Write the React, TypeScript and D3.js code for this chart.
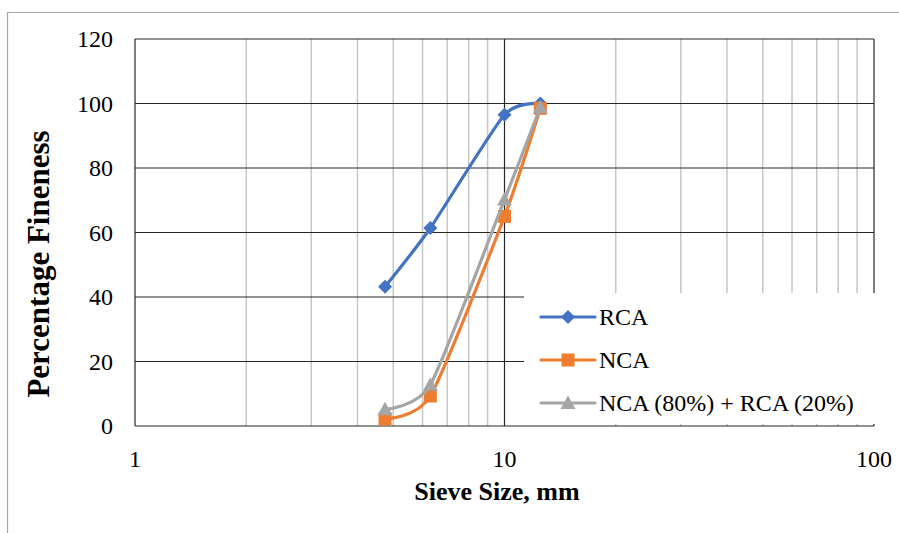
import React from "react";
import * as d3 from "d3";

const sieveSizes = [4.75, 6.3, 10, 12.5];
const rca = [43.2, 61.4, 96.5, 100];
const nca = [2.2, 9.3, 65, 98.5];
const blend = [5.2, 12.8, 70.2, 98.8];

const yTicks = [0, 20, 40, 60, 80, 100, 120];
const xTicks = [1, 10, 100];
const minorX = [2, 3, 4, 5, 6, 7, 8, 9, 20, 30, 40, 50, 60, 70, 80, 90];

const series = [
    { name: "RCA", values: rca, color: "#4472C4", marker: "diamond" },
    { name: "NCA", values: nca, color: "#ED7D31", marker: "square" },
    { name: "NCA (80%) + RCA (20%)", values: blend, color: "#A5A5A5", marker: "triangle" },
];

const width = 899;
const height = 533;
const left = 135;
const right = 874;
const top = 39;
const bottom = 426;
const font = "'Liberation Serif', 'Times New Roman', serif";

const x = d3.scaleLog().domain([1, 100]).range([left, right]);
const y = d3.scaleLinear().domain([0, 120]).range([bottom, top]);

const Marker = ({ type, cx, cy, color }: { type: string; cx: number; cy: number; color: string }) => {
    if (type === "diamond") {
        const s = 7;
        return <path d={`M${cx},${cy - s}L${cx + s},${cy}L${cx},${cy + s}L${cx - s},${cy}Z`} fill={color} />;
    }
    if (type === "square") {
        const s = 6.5;
        return <rect x={cx - s} y={cy - s} width={s * 2} height={s * 2} fill={color} />;
    }
    const s = 7.5;
    return <path d={`M${cx},${cy - s}L${cx + s},${cy + s * 0.8}L${cx - s},${cy + s * 0.8}Z`} fill={color} />;
};

export default function App() {
    const line = d3
        .line<[number, number]>()
        .x(d => x(d[0]))
        .y(d => y(d[1]))
        .curve(d3.curveCardinal.tension(0.35));

    const legendX = 541;
    const legendRows = [317, 360, 403];

    return (
        <svg
            width={width}
            height={height}
            style={{ position: "absolute", left: 0, top: 0, background: "#fff" }}
            fontFamily={font}
        >
            {/* outer frame */}
            <line x1={7} x2={width} y1={12.5} y2={12.5} stroke="#a6a6a6" strokeWidth={1.2} />
            <line x1={7.5} x2={7.5} y1={12} y2={height} stroke="#a6a6a6" strokeWidth={1.2} />

            {/* minor verticals */}
            {minorX.map(v => (
                <line key={"mx" + v} x1={x(v)} x2={x(v)} y1={top} y2={bottom} stroke="#c6c6c6" strokeWidth={1.5} />
            ))}
            {/* major gridlines */}
            {yTicks.map(v => (
                <line key={"gy" + v} x1={left} x2={right} y1={y(v)} y2={y(v)} stroke="#262626" strokeWidth={1.2} />
            ))}
            {xTicks.map(v => (
                <line key={"gx" + v} x1={x(v)} x2={x(v)} y1={top} y2={bottom} stroke="#262626" strokeWidth={1.2} />
            ))}

            {/* y tick labels */}
            {yTicks.map(v => (
                <text key={"ty" + v} x={113} y={y(v) + 8} textAnchor="end" fontSize={24} fill="#000">
                    {v}
                </text>
            ))}
            {/* x tick labels */}
            {xTicks.map(v => (
                <text key={"tx" + v} x={x(v)} y={467} textAnchor="middle" fontSize={24} fill="#000">
                    {v}
                </text>
            ))}

            {/* series */}
            {series.map(s => (
                <g key={s.name}>
                    <path
                        d={line(sieveSizes.map((d, i) => [d, s.values[i]] as [number, number])) || ""}
                        fill="none"
                        stroke={s.color}
                        strokeWidth={3.2}
                        strokeLinecap="round"
                    />
                    {sieveSizes.map((d, i) => (
                        <Marker key={i} type={s.marker} cx={x(d)} cy={y(s.values[i])} color={s.color} />
                    ))}
                </g>
            ))}

            {/* legend */}
            <rect x={524} y={293} width={357} height={131} fill="#fff" />
            {series.map((s, i) => (
                <g key={"lg" + s.name}>
                    <line
                        x1={legendX}
                        x2={legendX + 54}
                        y1={legendRows[i]}
                        y2={legendRows[i]}
                        stroke={s.color}
                        strokeWidth={3.2}
                        strokeLinecap="round"
                    />
                    <Marker type={s.marker} cx={legendX + 27} cy={legendRows[i]} color={s.color} />
                    <text x={599} y={legendRows[i] + 8} fontSize={24} fill="#000">
                        {s.name}
                    </text>
                </g>
            ))}

            {/* axis titles */}
            <text x={497} y={500} textAnchor="middle" fontSize={26} fontWeight="bold" fill="#000">
                Sieve Size, mm
            </text>
            <text
                transform={`translate(49, 264) rotate(-90)`}
                textAnchor="middle"
                fontSize={31}
                fontWeight="bold"
                fill="#000"
            >
                Percentage Fineness
            </text>
        </svg>
    );
}
